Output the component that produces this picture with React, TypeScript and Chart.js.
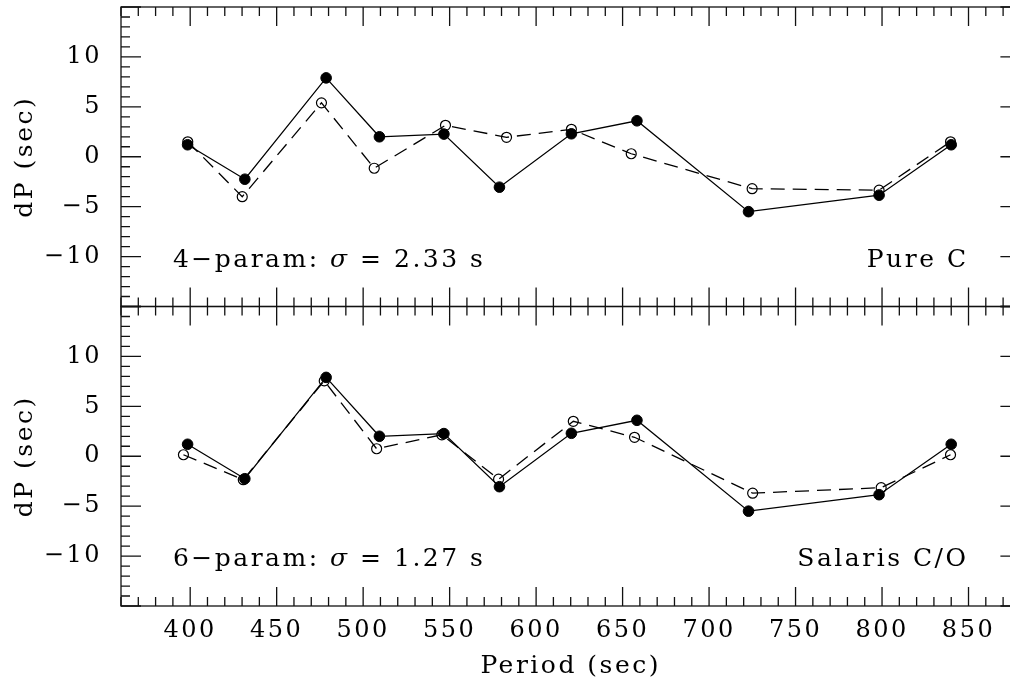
import React, { useEffect, useRef } from "react";
import { Chart, registerables } from "chart.js";

Chart.register(...registerables);

// ---- data ----
const obsPeriod = [398.5, 431.6, 478.6, 509.4, 546.7, 578.8, 620.4, 658.3, 722.8, 798.3, 840.0];
const obsDP = [1.2, -2.25, 7.9, 2.0, 2.27, -3.05, 2.3, 3.6, -5.5, -3.85, 1.2];

const pureCPeriod = [398.6, 430.1, 475.9, 506.4, 547.6, 582.9, 620.4, 655.0, 724.9, 798.3, 839.6];
const pureCDP = [1.5, -4.0, 5.4, -1.15, 3.15, 1.95, 2.75, 0.3, -3.2, -3.35, 1.5];

const salarisPeriod = [396.1, 430.7, 477.5, 507.8, 545.5, 578.3, 621.5, 656.9, 725.2, 799.5, 839.6];
const salarisDP = [0.15, -2.35, 7.55, 0.75, 2.15, -2.3, 3.5, 1.9, -3.7, -3.15, 0.15];

const xTickValues = [400, 450, 500, 550, 600, 650, 700, 750, 800, 850];
const yTickValues = [-10, -5, 0, 5, 10];
const xRange = [360, 880];
const yRange = [-15, 15];

const fitParams = ["4", "6"];
const fitSigmas = ["2.33", "1.27"];
const modelNames = ["Pure C", "Salaris C/O"];

const xMinorStep = 10;
const xMajorStep = 50;
const yMinorStep = 1;
const yMajorStep = 5;

const FONT = '"DejaVu Serif", serif';
const CANVAS_W = 1030;
const CANVAS_H = 689;

const pts = (xs: number[], ys: number[]) => xs.map((x, i) => ({ x, y: ys[i] }));
const fmt = (v: number) => (v < 0 ? "\u2212" + Math.abs(v) : String(v));

const framePlugin = {
  id: "frameTicks",
  beforeLayout(chart: any) {
    chart.ctx.letterSpacing = "2.5px";
  },
  beforeDraw(chart: any) {
    chart.ctx.letterSpacing = "2.5px";
  },
  afterDraw(chart: any) {
    const ctx = chart.ctx;
    const xs = chart.scales.x;
    const area = chart.chartArea;
    ctx.save();
    ctx.letterSpacing = "2.5px";
    ["yTop", "yBot"].forEach((id, pi) => {
      const ys = chart.scales[id];
      const top = ys.top;
      const bottom = ys.bottom;
      const left = area.left;
      const right = area.right;
      ctx.strokeStyle = "#111";
      ctx.lineWidth = 1.3;
      ctx.strokeRect(left, top, right - left, bottom - top);
      ctx.beginPath();
      for (let v = xRange[0]; v <= xRange[1]; v += xMinorStep) {
        const px = xs.getPixelForValue(v);
        const len = v % xMajorStep === 0 ? 19 : 9;
        ctx.moveTo(px, top);
        ctx.lineTo(px, top + len);
        ctx.moveTo(px, bottom);
        ctx.lineTo(px, bottom - len);
      }
      for (let v = yRange[0]; v <= yRange[1]; v += yMinorStep) {
        const py = ys.getPixelForValue(v);
        const len = v % yMajorStep === 0 ? 20 : 9;
        ctx.moveTo(left, py);
        ctx.lineTo(left + len, py);
        ctx.moveTo(right, py);
        ctx.lineTo(right - len, py);
      }
      ctx.stroke();

      // panel annotations
      ctx.fillStyle = "#000";
      ctx.textBaseline = "alphabetic";
      ctx.textAlign = "left";
      const by = ys.getPixelForValue(-11);
      let cx = xs.getPixelForValue(390);
      const parts: [string, boolean][] = [
        [fitParams[pi] + "\u2212param: ", false],
        ["\u03c3", true],
        [" = " + fitSigmas[pi] + " s", false],
      ];
      parts.forEach(([t, it]) => {
        ctx.font = (it ? "italic " : "") + "25px " + FONT;
        ctx.fillText(t, cx, by);
        cx += ctx.measureText(t).width;
      });
      ctx.font = "25px " + FONT;
      ctx.textAlign = "right";
      ctx.fillText(modelNames[pi], xs.getPixelForValue(850), by);
    });
    ctx.restore();
  },
};

const yScale = () => ({
  type: "linear",
  position: "left",
  stack: "panels",
  stackWeight: 1,
  min: yRange[0],
  max: yRange[1],
  afterBuildTicks: (axis: any) => {
    axis.ticks = yTickValues.map((v) => ({ value: v }));
  },
  afterFit: (axis: any) => {
    axis.width = 121;
    axis.paddingTop = 0;
    axis.paddingBottom = 0;
  },
  grid: { display: false, drawTicks: false },
  border: { display: false },
  ticks: {
    color: "#000",
    font: { family: FONT, size: 24 },
    padding: 19,
    autoSkip: false,
    callback: (v: any) => fmt(Number(v)),
  },
  title: {
    display: true,
    text: "dP (sec)",
    color: "#000",
    font: { family: FONT, size: 25 },
    padding: { top: 10, bottom: 0 },
  },
});

export default function App() {
  const ref = useRef<HTMLCanvasElement | null>(null);

  useEffect(() => {
    if (!ref.current) return;
    const solid = {
      showLine: true,
      borderColor: "#000",
      borderWidth: 1.3,
      pointRadius: 5.3,
      pointBackgroundColor: "#000",
      pointBorderColor: "#000",
      pointBorderWidth: 1,
      xAxisID: "x",
    };
    const dashed = {
      showLine: true,
      borderColor: "#000",
      borderWidth: 1.3,
      borderDash: [14, 8],
      pointRadius: 5,
      pointBackgroundColor: "rgba(0,0,0,0)",
      pointBorderColor: "#000",
      pointBorderWidth: 1.2,
      xAxisID: "x",
    };
    const chart = new Chart(ref.current, {
      type: "scatter",
      data: {
        datasets: [
          { ...solid, label: "Observed (top)", data: pts(obsPeriod, obsDP), yAxisID: "yTop" },
          { ...dashed, label: "Pure C", data: pts(pureCPeriod, pureCDP), yAxisID: "yTop" },
          { ...solid, label: "Observed (bottom)", data: pts(obsPeriod, obsDP), yAxisID: "yBot" },
          { ...dashed, label: "Salaris C/O", data: pts(salarisPeriod, salarisDP), yAxisID: "yBot" },
        ] as any,
      },
      options: {
        animation: false,
        responsive: false,
        layout: { padding: { left: 0, top: 7, right: 9.6, bottom: 0 } },
        plugins: { legend: { display: false }, tooltip: { enabled: false } },
        scales: {
          yBot: yScale() as any,
          yTop: yScale() as any,
          x: {
            type: "linear",
            position: "bottom",
            min: xRange[0],
            max: xRange[1],
            afterBuildTicks: (axis: any) => {
              axis.ticks = xTickValues.map((v) => ({ value: v }));
            },
            afterFit: (axis: any) => {
              axis.height = 83;
              axis.paddingLeft = 0;
              axis.paddingRight = 0;
            },
            grid: { display: false, drawTicks: false },
            border: { display: false },
            ticks: {
              color: "#000",
              font: { family: FONT, size: 24 },
              padding: 10,
              maxRotation: 0,
              autoSkip: false,
              callback: (v: any) => fmt(Number(v)),
            },
            title: {
              display: true,
              text: "Period (sec)",
              color: "#000",
              font: { family: FONT, size: 25 },
              padding: { top: 0, bottom: 8 },
            },
          } as any,
        },
      },
      plugins: [framePlugin as any],
    });
    return () => chart.destroy();
  }, []);

  return (
    <div
      style={{
        position: "fixed",
        left: 0,
        top: 0,
        width: 1010,
        height: 689,
        overflow: "hidden",
        background: "#fff",
      }}
    >
      <canvas ref={ref} width={CANVAS_W} height={CANVAS_H} style={{ display: "block" }} />
    </div>
  );
}
